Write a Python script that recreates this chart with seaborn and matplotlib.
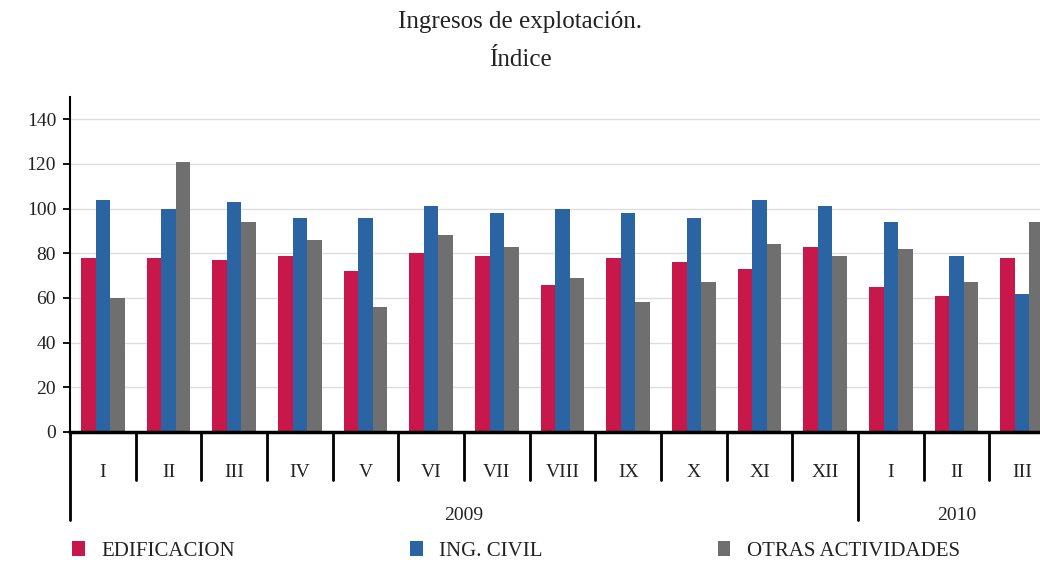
import numpy as np
import pandas as pd
import matplotlib
matplotlib.use("Agg")
import matplotlib.pyplot as plt
import matplotlib.transforms as mtransforms
import seaborn as sns

months = ["I", "II", "III", "IV", "V", "VI", "VII", "VIII", "IX", "X", "XI", "XII", "I", "II", "III"]
years = ["2009"] * 12 + ["2010"] * 3
edificacion = [78, 78, 77, 79, 72, 80, 79, 66, 78, 76, 73, 83, 65, 61, 78]
ing_civil = [104, 100, 103, 96, 96, 101, 98, 100, 98, 96, 104, 101, 94, 79, 62]
otras = [60, 121, 94, 86, 56, 88, 83, 69, 58, 67, 84, 79, 82, 67, 94]
series_names = ["EDIFICACION", "ING. CIVIL", "OTRAS ACTIVIDADES"]
colors = ["#C8174B", "#2A64A2", "#6F6F6F"]

periods = [f"{y}-{m}" for y, m in zip(years, months)]
df = pd.DataFrame({
    "period": periods * 3,
    "serie": np.repeat(series_names, len(periods)),
    "valor": edificacion + ing_civil + otras,
})

sns.set_theme(style="white")
plt.rcParams["font.family"] = ["Liberation Serif", "DejaVu Serif"]

fig = plt.figure(figsize=(10.4, 5.65), dpi=100)
ax = fig.add_axes([70 / 1040, 1 - 432 / 565, 985 / 1040, (432 - 97) / 565])

sns.barplot(data=df, x="period", y="valor", hue="serie", order=periods,
            hue_order=series_names, palette=colors, saturation=1,
            width=0.66, gap=0, ax=ax, legend=True, linewidth=0, edgecolor="none")

ax.set_ylim(0, 150)
ax.set_xlim(-0.5, len(periods) - 0.5)
ax.set_yticks(np.arange(0, 141, 20))
ax.tick_params(axis="y", labelsize=14, length=5, width=1.3, color="black",
               direction="out", left=True, pad=5, labelcolor="#222222")
ax.yaxis.grid(True, color="#DDDDDD", linewidth=1)
ax.set_axisbelow(True)
ax.set_xlabel("")
ax.set_ylabel("")

for s in ["top", "right"]:
    ax.spines[s].set_visible(False)
ax.spines["left"].set_color("black")
ax.spines["left"].set_linewidth(1.5)
ax.spines["bottom"].set_color("black")
ax.spines["bottom"].set_linewidth(2.5)

ax.set_xticks(np.arange(len(periods)))
ax.set_xticklabels(months, fontsize=14, color="#222222")
ax.tick_params(axis="x", length=0, pad=23, bottom=False)

# separators for hierarchical category axis
trans = mtransforms.blended_transform_factory(ax.transData, ax.transAxes)
px = 1 / (432 - 97)
bounds = np.arange(len(periods) + 1) - 0.5
year_bounds = [-0.5] + [i - 0.5 for i in range(1, len(years)) if years[i] != years[i - 1]]
for b in bounds:
    if b in year_bounds:
        ax.plot([b, b], [0, -88 * px], transform=trans, color="black", lw=2, clip_on=False)
    elif b < len(periods) - 0.5:
        ax.plot([b, b], [0, -48 * px], transform=trans, color="black", lw=2, clip_on=False)

for y in dict.fromkeys(years):
    idx = [i for i, yy in enumerate(years) if yy == y]
    ax.text(np.mean(idx), -83 * px, y, transform=trans, ha="center", va="center",
            fontsize=14, color="#222222")

handles, labels = ax.get_legend_handles_labels()
ax.legend_.remove()
fig.legend(handles, labels, loc="center left", bbox_to_anchor=(64 / 1040, 1 - 551 / 565),
           ncol=3, frameon=False, fontsize=15, handlelength=0.6, handleheight=0.75,
           handletextpad=0.8, columnspacing=8.4, borderaxespad=0, labelcolor="#222222")

fig.text(0.5, 1 - 41 / 565, "Ingresos de explotación.\nÍndice", ha="center", va="center",
         fontsize=18, linespacing=1.95, color="#222222")

fig.savefig("out.png", dpi=100)
